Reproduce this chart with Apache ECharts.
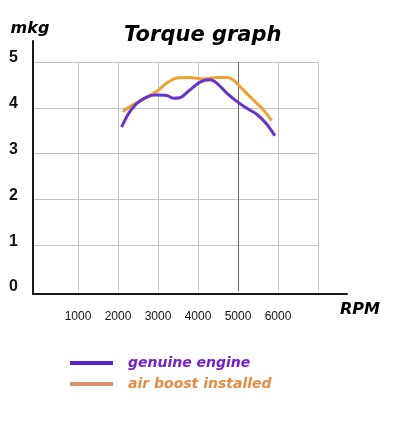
<!DOCTYPE html>
<html>
<head>
<meta charset="utf-8">
<script src="https://cdn.jsdelivr.net/npm/echarts@6/dist/echarts.min.js"></script>
<style>
html,body{margin:0;padding:0;background:#fff;}
#chart{width:396px;height:421px;}
</style>
</head>
<body>
<div id="chart"></div>
<script>
const titleText = 'Torque graph';
const yUnit = 'mkg';
const xUnit = 'RPM';
const seriesNames = ['genuine engine', 'air boost installed'];
const xTickLabels = ['1000', '2000', '3000', '4000', '5000', '6000'];
const yTickLabels = ['0', '1', '2', '3', '4', '5'];

const rpmGenuine    = [2090, 2300, 2550, 2920, 3220, 3380, 3550, 3800, 4050, 4300, 4470, 4720, 4970, 5220, 5470, 5720, 5920];
const torqueGenuine = [3.58, 3.92, 4.15, 4.28, 4.27, 4.21, 4.22, 4.39, 4.56, 4.61, 4.54, 4.32, 4.14, 3.99, 3.86, 3.64, 3.39];

const rpmBoost    = [2120, 2380, 2680, 2970, 3220, 3470, 3800, 4130, 4470, 4720, 4880, 5130, 5470, 5630, 5840];
const torqueBoost = [3.92, 4.07, 4.21, 4.36, 4.54, 4.65, 4.66, 4.63, 4.66, 4.66, 4.61, 4.39, 4.10, 3.96, 3.72];

const pairs = (xs, ys) => xs.map((x, i) => [x, ys[i]]);

const heavy = { fontFamily: 'DejaVu Sans', fontWeight: 'bold', fontStyle: 'italic' };
const lightGrid = '#c4c4c4';

const chart = echarts.init(document.getElementById('chart'), null, { renderer: 'canvas' });
chart.setOption({
  animation: false,
  backgroundColor: '#ffffff',
  title: {
    text: titleText,
    left: 119,
    top: 20,
    textStyle: Object.assign({ fontSize: 21, color: '#000' }, heavy)
  },
  legend: {
    orient: 'vertical',
    left: 65,
    top: 351,
    itemWidth: 43,
    itemHeight: 4,
    itemGap: 7,
    icon: 'rect',
    textStyle: Object.assign({ fontSize: 14, padding: [0, 0, 0, 10] }, heavy),
    data: [
      { name: seriesNames[0], itemStyle: { color: '#5a20c8' }, textStyle: { color: '#7420d0' } },
      { name: seriesNames[1], itemStyle: { color: '#e09068' }, textStyle: { color: '#e88a40' } }
    ]
  },
  grid: [
    { left: 38, top: 62, width: 280, height: 229 },
    { left: 33, top: 62, width: 286, height: 229 },
    { left: 33, top: 41, width: 314, height: 253 }
  ],
  xAxis: [
    {
      type: 'value', gridIndex: 0, min: 0, max: 7000, interval: 1000,
      axisLine: { show: false }, axisTick: { show: false },
      axisLabel: {
        margin: 20, fontSize: 12, color: '#111', fontFamily: 'Liberation Sans',
        formatter: v => { const s = String(v); return xTickLabels.indexOf(s) >= 0 ? s : ''; }
      },
      splitLine: {
        show: true, showMinLine: false,
        lineStyle: { width: 1, color: [lightGrid, lightGrid, lightGrid, lightGrid, '#6a6a6a', lightGrid, lightGrid] }
      }
    },
    { type: 'value', gridIndex: 1, min: 0, max: 1, show: false },
    {
      type: 'value', gridIndex: 2, min: 0, max: 1, z: 5,
      axisLine: { show: true, onZero: false, lineStyle: { color: '#1a1a1a', width: 2 } },
      axisTick: { show: false }, axisLabel: { show: false }, splitLine: { show: false },
      name: xUnit, nameLocation: 'end', nameGap: -7,
      nameTextStyle: Object.assign({ fontSize: 16, color: '#000', align: 'left', verticalAlign: 'top', padding: [8, 0, 0, 0] }, heavy)
    }
  ],
  yAxis: [
    { type: 'value', gridIndex: 0, min: 0, max: 5, interval: 1, show: false },
    {
      type: 'value', gridIndex: 1, min: 0, max: 5, interval: 1,
      axisLine: { show: false }, axisTick: { show: false },
      axisLabel: {
        margin: 15, fontSize: 16, fontWeight: 'bold', color: '#111', fontFamily: 'Liberation Sans',
        verticalAlign: 'bottom', lineHeight: 8,
        formatter: v => { const s = String(v); return yTickLabels.indexOf(s) >= 0 ? s : ''; }
      },
      splitLine: { show: true, showMinLine: false, lineStyle: { width: 1, color: lightGrid } }
    },
    {
      type: 'value', gridIndex: 2, min: 0, max: 1, z: 5,
      axisLine: { show: true, onZero: false, lineStyle: { color: '#1a1a1a', width: 2 } },
      axisTick: { show: false }, axisLabel: { show: false }, splitLine: { show: false },
      name: yUnit, nameLocation: 'end', nameGap: 4,
      nameTextStyle: Object.assign({ fontSize: 16, color: '#000', align: 'center', padding: [0, 6, 0, 0] }, heavy)
    }
  ],
  series: [
    {
      name: seriesNames[0], type: 'line', xAxisIndex: 0, yAxisIndex: 0,
      data: pairs(rpmGenuine, torqueGenuine), smooth: 0.3, symbol: 'none',
      lineStyle: { width: 3, color: '#6633cc' }, itemStyle: { color: '#6633cc' }, z: 3
    },
    {
      name: seriesNames[1], type: 'line', xAxisIndex: 0, yAxisIndex: 0,
      data: pairs(rpmBoost, torqueBoost), smooth: 0.3, symbol: 'none',
      lineStyle: { width: 3, color: '#f0a030' }, itemStyle: { color: '#f0a030' }, z: 2
    }
  ]
});
</script>
</body>
</html>
